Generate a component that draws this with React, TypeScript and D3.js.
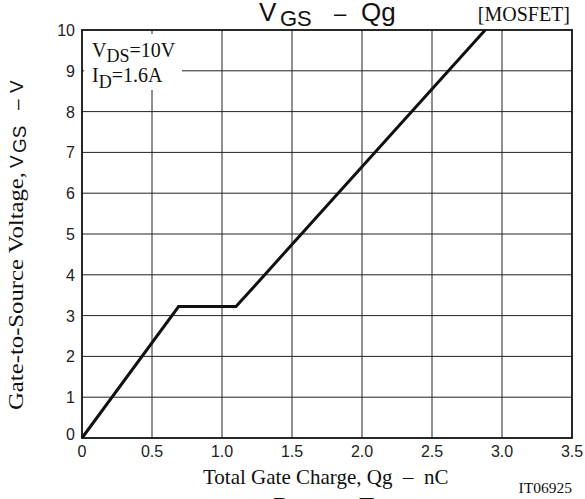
import * as d3 from 'd3';
import React, { useEffect, useRef } from 'react';

// Curve (Qg in nC, VGS in V)
const qgValues = [0, 0.69, 1.1, 2.88];
const vgsValues = [0, 3.22, 3.22, 10];

const xTicks = [0, 0.5, 1.0, 1.5, 2.0, 2.5, 3.0, 3.5];
const xTickLabels = ['0', '0.5', '1.0', '1.5', '2.0', '2.5', '3.0', '3.5'];
const yTicks = [0, 1, 2, 3, 4, 5, 6, 7, 8, 9, 10];

const SANS = '"Liberation Sans", Arial, Helvetica, sans-serif';
const SERIF = '"Liberation Serif", "Times New Roman", serif';

const App: React.FC = () => {
  const svgRef = useRef<SVGSVGElement>(null);
  const width = 585;
  const height = 499;

  useEffect(() => {
    if (!svgRef.current) return;
    const svg = d3.select(svgRef.current);
    svg.selectAll('*').remove();

    const margin = { top: 30, right: 13, bottom: 61, left: 82 };
    const innerWidth = width - margin.left - margin.right;
    const innerHeight = height - margin.top - margin.bottom;

    const x = d3.scaleLinear().domain([0, 3.5]).range([0, innerWidth]);
    const y = d3.scaleLinear().domain([0, 10]).range([innerHeight, 0]);

    svg.append('rect').attr('width', width).attr('height', height).attr('fill', '#fff');

    const g = svg.append('g').attr('transform', `translate(${margin.left},${margin.top})`);

    // grid
    g.append('g')
      .selectAll('line')
      .data(xTicks.slice(1, -1))
      .join('line')
      .attr('x1', d => x(d)).attr('x2', d => x(d))
      .attr('y1', 0).attr('y2', innerHeight)
      .attr('stroke', '#222').attr('stroke-width', 1);

    g.append('g')
      .selectAll('line')
      .data(yTicks.slice(1, -1))
      .join('line')
      .attr('x1', 0).attr('x2', innerWidth)
      .attr('y1', d => y(d)).attr('y2', d => y(d))
      .attr('stroke', '#222').attr('stroke-width', 1);

    // condition box (white backdrop hides the grid)
    g.append('rect')
      .attr('x', 2).attr('y', 4)
      .attr('width', 98).attr('height', 56)
      .attr('fill', '#fff');

    const cond = g.append('g').style('font-family', SERIF).attr('fill', '#111');
    const t1 = cond.append('text').attr('x', 10).attr('y', 27).style('font-size', '20px');
    t1.append('tspan').text('V');
    t1.append('tspan').attr('dy', 5).style('font-size', '18px').text('DS');
    t1.append('tspan').attr('dy', -5).text('=10V');
    const t2 = cond.append('text').attr('x', 10).attr('y', 52).style('font-size', '20px');
    t2.append('tspan').text('I');
    t2.append('tspan').attr('dy', 6).style('font-size', '18px').text('D');
    t2.append('tspan').attr('dy', -6).text('=1.6A');

    // curve
    const pts = qgValues.map((q, i) => [q, vgsValues[i]] as [number, number]);
    const line = d3.line<[number, number]>().x(d => x(d[0])).y(d => y(d[1]));
    g.append('path')
      .datum(pts)
      .attr('d', line)
      .attr('fill', 'none')
      .attr('stroke', '#111')
      .attr('stroke-width', 3)
      .attr('stroke-linejoin', 'miter');

    // frame
    g.append('rect')
      .attr('width', innerWidth).attr('height', innerHeight)
      .attr('fill', 'none').attr('stroke', '#111').attr('stroke-width', 1.8);

    // tick labels
    g.append('g')
      .selectAll('text')
      .data(xTicks)
      .join('text')
      .attr('x', d => x(d))
      .attr('y', innerHeight + 18.5)
      .attr('text-anchor', 'middle')
      .style('font-family', SANS)
      .style('font-size', '16px')
      .attr('fill', '#222')
      .text((d, i) => xTickLabels[i]);

    g.append('g')
      .selectAll('text')
      .data(yTicks)
      .join('text')
      .attr('x', -7)
      .attr('y', d => y(d) + (d === 0 ? 2 : 6))
      .attr('text-anchor', 'end')
      .style('font-family', SANS)
      .style('font-size', '16px')
      .attr('fill', '#222')
      .text(d => String(d));

    // title
    const title = svg.append('text').attr('y', 21).attr('fill', '#111').style('font-family', SANS);
    title.append('tspan').attr('x', 259).style('font-size', '26px').text('V');
    title.append('tspan').attr('x', 280).attr('dy', 5).style('font-size', '22px').text('GS');
    title.append('tspan').attr('x', 334).attr('dy', -5).style('font-size', '22px').text('–');
    title.append('tspan').attr('x', 361).style('font-size', '26px').text('Qg');

    svg.append('text')
      .attr('x', 570).attr('y', 21)
      .attr('text-anchor', 'end')
      .style('font-family', SERIF).style('font-size', '20px')
      .attr('fill', '#111')
      .text('[MOSFET]');

    // x axis title
    svg.append('text')
      .attr('x', 203).attr('y', 484)
      .style('font-family', SERIF).style('font-size', '21px')
      .attr('fill', '#111')
      .attr('xml:space', 'preserve')
      .text('Total Gate Charge, Qg  –  nC');

    svg.append('text')
      .attr('x', 572).attr('y', 493)
      .attr('text-anchor', 'end')
      .style('font-family', SERIF).style('font-size', '15.5px')
      .attr('fill', '#111')
      .text('IT06925');

    // y axis title (rotated)
    const yt = svg.append('g').attr('transform', 'translate(23,0) rotate(-90)').attr('fill', '#111');
    yt.append('text')
      .attr('x', -410).attr('y', 0)
      .attr('textLength', 238).attr('lengthAdjust', 'spacingAndGlyphs')
      .style('font-family', SERIF).style('font-size', '21px')
      .text('Gate-to-Source Voltage,');
    const ys = yt.append('text').attr('y', 0).style('font-family', SANS);
    ys.append('tspan').attr('x', -168).style('font-size', '19px').text('V');
    ys.append('tspan').attr('x', -153).attr('dy', 3).style('font-size', '19px').text('GS');
    ys.append('tspan').attr('x', -110).attr('dy', -3).style('font-size', '19px').text('–');
    ys.append('tspan').attr('x', -93).style('font-size', '19px').text('V');

    // top of the next chart's title, cut off by the page edge
    const next = svg.append('text').attr('y', 516).attr('fill', '#111').style('font-family', SANS);
    next.append('tspan').attr('x', 272).style('font-size', '25px').text('P');
    next.append('tspan').attr('dy', 5).style('font-size', '22px').text('D');
    next.append('tspan').attr('x', 334).attr('dy', -5).style('font-size', '22px').text('–');
    next.append('tspan').attr('x', 359).style('font-size', '25px').text('Ta');
    svg.append('text')
      .attr('x', 570).attr('y', 514)
      .attr('text-anchor', 'end')
      .style('font-family', SERIF).style('font-size', '20px')
      .attr('fill', '#111')
      .text('[MOSFET]');
  }, []);

  return (
    <svg
      ref={svgRef}
      width={width}
      height={height}
      style={{ position: 'absolute', left: 0, top: 0, display: 'block' }}
    />
  );
};

export default App;
